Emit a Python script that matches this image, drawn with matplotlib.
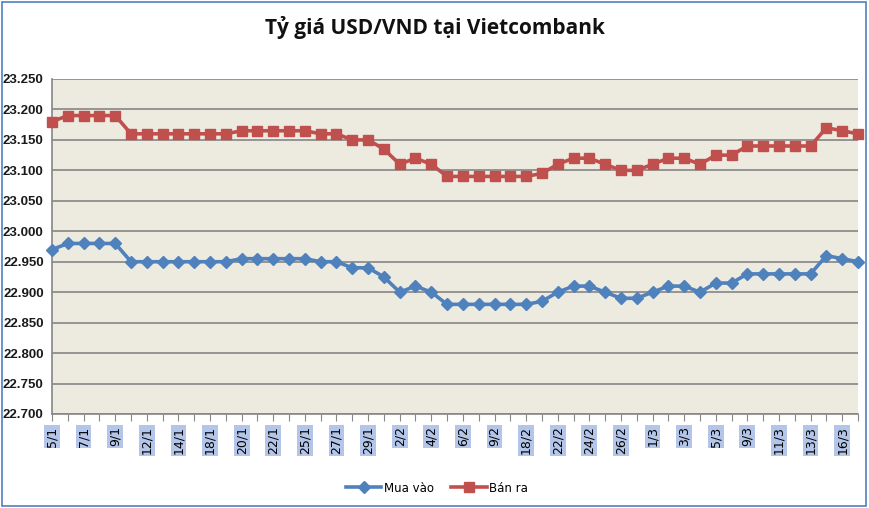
import matplotlib
matplotlib.use("Agg")
import matplotlib.pyplot as plt
from matplotlib.patches import Rectangle
from matplotlib.ticker import FuncFormatter, MultipleLocator

# ngay (ca chuoi, chi hien nhan chan)
dates = ["5/1", "6/1", "7/1", "8/1", "9/1", "10/1", "12/1", "13/1", "14/1", "16/1",
         "18/1", "19/1", "20/1", "21/1", "22/1", "23/1", "25/1", "26/1", "27/1", "28/1",
         "29/1", "30/1", "2/2", "3/2", "4/2", "5/2", "6/2", "7/2", "9/2", "11/2",
         "18/2", "20/2", "22/2", "23/2", "24/2", "25/2", "26/2", "28/2", "1/3", "2/3",
         "3/3", "4/3", "5/3", "7/3", "9/3", "10/3", "11/3", "12/3", "13/3", "14/3",
         "16/3", "17/3"]

mua_vao = [22970, 22980, 22980, 22980, 22980, 22950, 22950, 22950, 22950, 22950,
           22950, 22950, 22955, 22955, 22955, 22955, 22955, 22950, 22950, 22940,
           22940, 22925, 22900, 22910, 22900, 22880, 22880, 22880, 22880, 22880,
           22880, 22885, 22900, 22910, 22910, 22900, 22890, 22890, 22900, 22910,
           22910, 22900, 22915, 22915, 22930, 22930, 22930, 22930, 22930, 22960,
           22955, 22950]

ban_ra = [23180, 23190, 23190, 23190, 23190, 23160, 23160, 23160, 23160, 23160,
          23160, 23160, 23165, 23165, 23165, 23165, 23165, 23160, 23160, 23150,
          23150, 23135, 23110, 23120, 23110, 23090, 23090, 23090, 23090, 23090,
          23090, 23095, 23110, 23120, 23120, 23110, 23100, 23100, 23110, 23120,
          23120, 23110, 23125, 23125, 23140, 23140, 23140, 23140, 23140, 23170,
          23165, 23160]

BLUE = "#4F81BD"
RED = "#C0504D"

fig = plt.figure(figsize=(8.69, 5.08), dpi=100)
ax = fig.add_axes([52 / 869, 94 / 508, 806 / 869, 335 / 508])
ax.set_facecolor("#EDEBE0")

x = list(range(len(dates)))
ax.plot(x, mua_vao, color=BLUE, lw=2.6, marker="D", ms=6.5, label="Mua vào",
        clip_on=False, zorder=3)
ax.plot(x, ban_ra, color=RED, lw=2.6, marker="s", ms=7.5, label="Bán ra",
        clip_on=False, zorder=3)

ax.set_xlim(0, len(dates) - 1)
ax.set_ylim(22700, 23250)
ax.yaxis.set_major_locator(MultipleLocator(50))
ax.yaxis.set_major_formatter(FuncFormatter(lambda v, p: f"{v:,.0f}".replace(",", ".")))
ax.grid(axis="y", color="#868686", lw=1.2)
ax.set_axisbelow(True)

for s in ["top", "right"]:
    ax.spines[s].set_visible(False)
ax.spines["left"].set_color("#868686")
ax.spines["bottom"].set_color("#868686")
ax.spines["left"].set_linewidth(1.2)
ax.spines["bottom"].set_linewidth(1.2)

ax.set_xticks(x)
ax.set_xticklabels([d if i % 2 == 0 else "" for i, d in enumerate(dates)],
                   rotation=90, fontsize=9, fontfamily="DejaVu Sans")
for lab in ax.get_xticklabels():
    if lab.get_text():
        lab.set_bbox(dict(facecolor="#B3C5E8", edgecolor="none", pad=1.0))
ax.tick_params(axis="x", length=5, color="#868686", pad=4)
ax.tick_params(axis="y", length=0, pad=6)
for lab in ax.get_yticklabels():
    lab.set_fontweight("bold")
    lab.set_fontsize(9.5)
    lab.set_fontfamily("Liberation Sans")
    lab.set_color("#1a1a1a")

fig.text(0.5, 0.945, "Tỷ giá USD/VND tại Vietcombank", ha="center", va="center",
         fontsize=15, fontweight="bold", fontfamily="Open Sans", color="#111111")

fig.legend(loc="center", bbox_to_anchor=(437 / 869, 1 - 488 / 508), ncol=2,
           frameon=False, fontsize=8.5, handlelength=3, columnspacing=1.5,
           handletextpad=0.2)

fig.patches.append(Rectangle((0.002, 0.004), 0.994, 0.992, transform=fig.transFigure,
                             fill=False, edgecolor=BLUE, lw=1.2))

fig.savefig("out.png", dpi=100)
